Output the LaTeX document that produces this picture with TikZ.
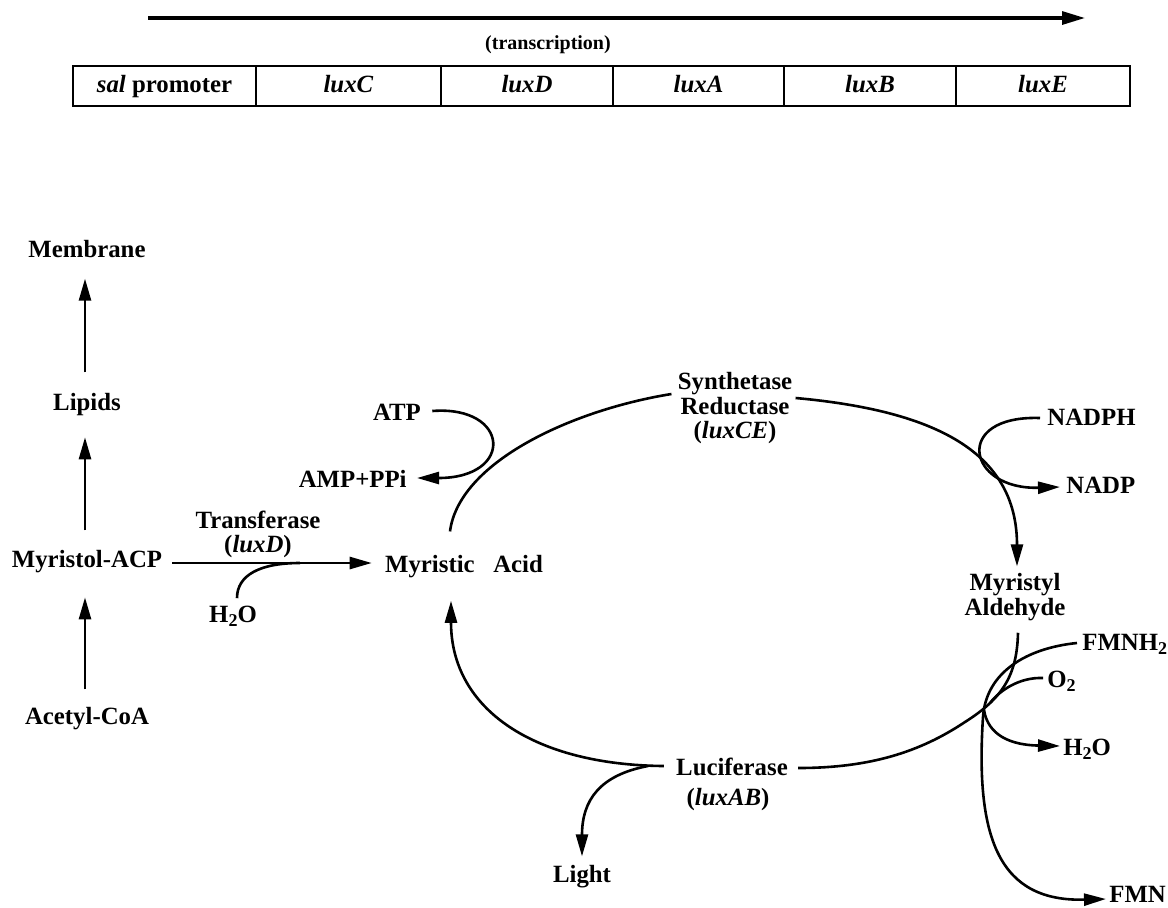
\documentclass[tikz,border=0pt]{standalone}
\usepackage{fontspec}
\setmainfont{Liberation Serif}
\usetikzlibrary{arrows.meta,calc}
\newcommand\sbs[1]{\raisebox{-0.4ex}{\fontsize{9}{9}\selectfont #1}}
\begin{document}
\begin{tikzpicture}[x=0.5pt,y=-0.5pt,
  lbl/.style={font=\fontsize{12.4}{14}\selectfont\bfseries, inner sep=0pt, anchor=base},
  genebox/.style={draw, line width=0.8pt, minimum height=20pt, inner sep=0pt, anchor=center,
    text height=8.6pt, text depth=2.6pt, font=\fontsize{12.4}{14}\selectfont\bfseries},
  arr/.style={line width=1.3pt, -{Triangle[length=11pt,width=6pt]}},
  ln/.style={line width=1.3pt},
  toparr/.style={line width=1.6pt, -{Triangle[length=11.5pt,width=6.5pt]}}]
\useasboundingbox (0,0) rectangle (1168,907);

% transcription arrow
\coordinate (ts) at (148,18);
\coordinate (te) at (1085,18);
\draw[toparr] (ts) -- (te);
\node[font=\fontsize{10}{12}\selectfont\bfseries, inner sep=0pt] (trans) at (548,45) {(transcription)};

% gene boxes
\node[genebox, minimum width=91.5pt] (gsal) at (164.5,86) {\textit{sal} promoter};
\node[genebox, minimum width=92.5pt] (gC) at (348.5,86) {\textit{luxC}};
\node[genebox, minimum width=86pt]   (gD) at (527,86) {\textit{luxD}};
\node[genebox, minimum width=85.5pt] (gA) at (698.5,86) {\textit{luxA}};
\node[genebox, minimum width=86pt]   (gB) at (870,86) {\textit{luxB}};
\node[genebox, minimum width=87pt]   (gE) at (1043,86) {\textit{luxE}};

% labels
\node[lbl] (membrane) at (87,257) {Membrane};
\node[lbl] (lipids) at (87,410) {Lipids};
\node[lbl] (myracp) at (87,567) {Myristol-ACP};
\node[lbl] (acetyl) at (87,724) {Acetyl-CoA};
\node[lbl] (transf) at (258,528) {Transferase};
\node[lbl] (luxd) at (258,552) {(\textit{luxD})};
\node[lbl] (h2ol) at (233,622) {H\sbs{2}O};
\node[lbl] (myristic) at (464,572) {Myristic\hspace{0.75em}Acid};
\node[lbl] (atp) at (397,420) {ATP};
\node[lbl, anchor=base east] (amp) at (407,487) {AMP+PPi};
\node[lbl] (synth) at (735,389) {Synthetase};
\node[lbl] (reduct) at (735,414) {Reductase};
\node[lbl] (luxce) at (735,438) {(\textit{luxCE})};
\node[lbl, anchor=base west] (nadph) at (1047,425) {NADPH};
\node[lbl, anchor=base west] (nadp) at (1066,493) {NADP};
\node[lbl] (myristyl) at (1015,590) {Myristyl};
\node[lbl] (aldehyde) at (1015,615) {Aldehyde};
\node[lbl, anchor=base west] (fmnh2) at (1082,650) {FMNH\sbs{2}};
\node[lbl, anchor=base west] (o2) at (1047,687) {O\sbs{2}};
\node[lbl, anchor=base west] (h2or) at (1063,755) {H\sbs{2}O};
\node[lbl, anchor=base west] (fmn) at (1109,902) {FMN};
\node[lbl] (lucif) at (732,775) {Luciferase};
\node[lbl] (luxab) at (728,805) {(\textit{luxAB})};
\node[lbl] (light) at (582,882) {Light};

% left column
\draw[arr] ([xshift=-1pt,yshift=10pt]lipids.north) -- ([xshift=-1pt,yshift=-10.5pt]membrane.south);
\draw[arr] ([xshift=-1pt,yshift=9.5pt]myracp.north) -- ([xshift=-1pt,yshift=-10.8pt]lipids.south);
\draw[arr] ([xshift=-1pt,yshift=8.5pt]acetyl.north) -- ([xshift=-1pt,yshift=-12.3pt]myracp.south);

% transferase
\draw[arr] ([xshift=5pt,yshift=2pt]myracp.base east) -- ([xshift=-6.5pt,yshift=4.5pt]myristic.base west);
\coordinate (jH) at (300,563);
\draw[ln] ([xshift=2pt,yshift=3.5pt]h2ol.north) .. controls (237,575) and (260,563) .. (jH);

% synthetase / reductase
\draw[ln] ([xshift=-3pt,yshift=-2.5pt]synth.base west) .. controls (572,410) and (459,462) .. ([xshift=-7pt,yshift=11.5pt]myristic.north);
\draw[arr] ([xshift=5.5pt,yshift=4.5pt]atp.base east) .. controls (510,405) and (515,478) .. ([xshift=5pt,yshift=4.5pt]amp.base east);
\draw[arr] ([xshift=1.5pt,yshift=-4.5pt]synth.base east) .. controls (935,410.6) and (1017,452) .. ([xshift=1pt,yshift=3pt]myristyl.north);
\draw[arr] ([xshift=-3.5pt,yshift=3.5pt]nadph.base west) .. controls (952,415) and (967,490) .. ([xshift=-3pt,yshift=3pt]nadp.base west);

% luciferase
\coordinate (bm) at (965,722);
\draw[ln] ([xshift=1.5pt,yshift=-6pt]aldehyde.south) .. controls (1017,675) and (1003,698) .. (bm) .. controls (920,752) and (870,768) .. ([xshift=5pt,yshift=3.5pt]lucif.base east);
\coordinate (jf) at (983,717);
\draw[arr] ([xshift=-2.5pt,yshift=3.5pt]fmnh2.base west) .. controls (1027,648) and (986,672) .. (jf) .. controls (975,840) and (1000,902) .. ([xshift=-1.5pt,yshift=1.5pt]fmn.base west);
\coordinate (jo) at (990,703);
\draw[ln] ([xshift=-2pt,yshift=4.5pt]o2.base west) .. controls (1020,677) and (1000,690) .. (jo);
\coordinate (jw) at (984,710);
\draw[arr] (jw) .. controls (988,735) and (1010,745) .. ([xshift=-1.5pt,yshift=4.5pt]h2or.base west);

\draw[arr] ([xshift=-6pt,yshift=4.5pt]lucif.base west) .. controls (535,765) and (451,710) .. ([xshift=-6.5pt,yshift=-11.5pt]myristic.south);
\coordinate (jl) at (648,766);
\draw[arr] (jl) .. controls (600,775) and (582,800) .. ([yshift=4pt]light.north);
\end{tikzpicture}
\end{document}
